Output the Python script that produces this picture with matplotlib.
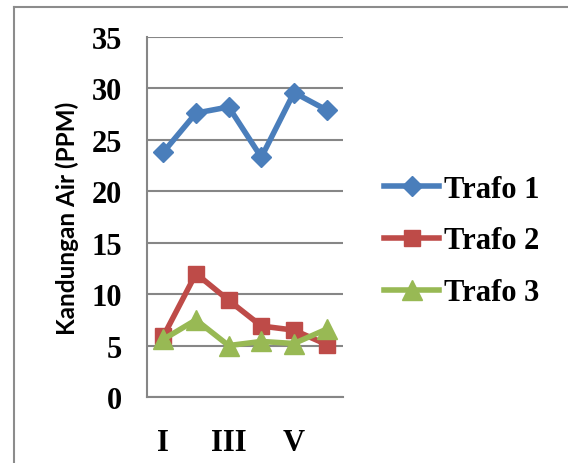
import matplotlib
matplotlib.use("Agg")
import matplotlib.pyplot as plt
from matplotlib.lines import Line2D

# data
categories = ["I", "II", "III", "IV", "V", "VI"]
trafo1 = [23.8, 27.6, 28.2, 23.3, 29.6, 27.9]
trafo2 = [5.9, 12.0, 9.4, 6.9, 6.5, 5.1]
trafo3 = [5.6, 7.5, 5.0, 5.4, 5.2, 6.6]
series_names = ["Trafo 1", "Trafo 2", "Trafo 3"]

serif = "Liberation Serif"

fig = plt.figure(figsize=(5.68, 4.64), dpi=100)
ax = fig.add_axes([147 / 568, 66 / 464, 196 / 568, 360 / 464])

x = range(len(categories))
ax.plot(x, trafo1, color="#4A7EBB", lw=4, marker="D", ms=10.5, label=series_names[0])
ax.plot(x, trafo2, color="#BE4B48", lw=4, marker="s", ms=12, label=series_names[1])
ax.plot(x, trafo3, color="#98B954", lw=4, marker="^", ms=14, label=series_names[2])

ax.set_xlim(-0.5, len(categories) - 0.5)
ax.set_ylim(0, 35)
ax.set_yticks(range(0, 36, 5))
ax.set_xticks(list(x))
# excel only had room for every other category label
ax.set_xticklabels([c if i % 2 == 0 else "" for i, c in enumerate(categories)])
for lab in ax.get_xticklabels() + ax.get_yticklabels():
    lab.set_fontfamily(serif)
    lab.set_fontweight("bold")
    lab.set_fontsize(22)
ax.tick_params(axis="y", length=0, pad=18)
ax.tick_params(axis="x", length=0, pad=22)

ax.grid(axis="y", color="#868686", lw=1.5)
ax.set_axisbelow(True)
for side in ["top", "right"]:
    ax.spines[side].set_visible(False)
for side in ["left", "bottom"]:
    ax.spines[side].set_color("#868686")
    ax.spines[side].set_linewidth(1.5)

fig.text(67 / 568, 1 - 218 / 464, "Kandungan Air (PPM)", rotation=90, ha="center", va="center",
         fontfamily="Lato", fontweight="bold", fontsize=17.5)

fig.legend(loc="center left", bbox_to_anchor=(369 / 568, 1 - 242 / 464), frameon=False,
           prop={"family": serif, "weight": "bold", "size": 22}, borderpad=0,
           handlelength=1.8, handletextpad=0.15, labelspacing=0.75)

# outer chart border (only top and left edges are inside the crop)
fig.add_artist(Line2D([14 / 568, 14 / 568], [0, 1 - 7.5 / 464], transform=fig.transFigure,
                      color="#8c8c8c", lw=1.5))
fig.add_artist(Line2D([14 / 568, 1], [1 - 7.5 / 464, 1 - 7.5 / 464], transform=fig.transFigure,
                      color="#8c8c8c", lw=1.5))

fig.savefig("out.png", dpi=100)
